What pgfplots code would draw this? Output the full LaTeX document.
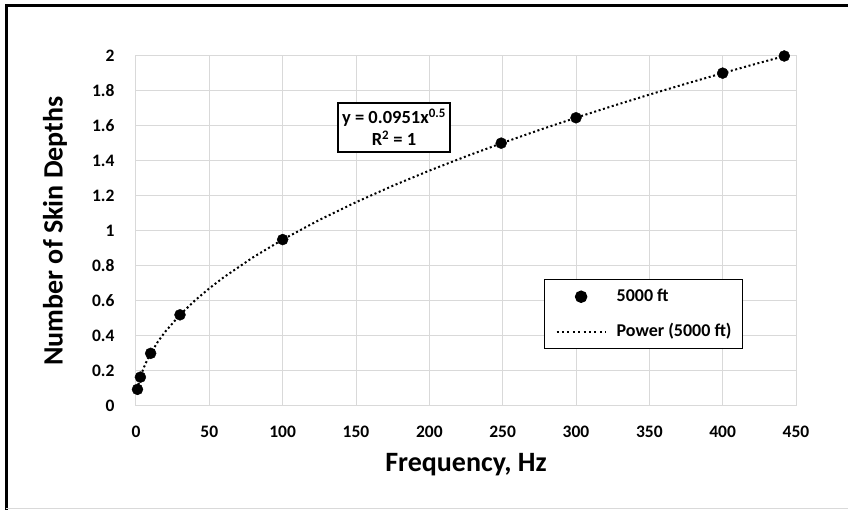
\documentclass[border=0pt]{standalone}
\usepackage{fontspec}
\setmainfont{Carlito}
\usepackage{pgfplots}
\pgfplotsset{compat=1.18}
\definecolor{gridgray}{RGB}{217,217,217}
\begin{document}
\begin{tikzpicture}[x=1pt,y=1pt]
\useasboundingbox (-136,-104) rectangle (712,406);
\draw[line width=2.2pt] (-129.5,-104) -- (-129.5,400.5) -- (712,400.5);
\draw[gridgray,line width=1pt] (-129.5,-103) -- (712,-103);
\begin{axis}[
  at={(0,0)}, anchor=south west,
  scale only axis, width=660pt, height=350pt,
  xmin=0, xmax=450, ymin=0, ymax=2,
  xtick={0,50,...,450},
  ytick={0,0.2,...,2.01},
  yticklabels={0,0.2,0.4,0.6,0.8,1,1.2,1.4,1.6,1.8,2},
  grid=major,
  major grid style={gridgray, line width=1pt},
  axis line style={gridgray, line width=1pt},
  tick style={draw=none},
  /pgf/number format/assume math mode=true,
  ticklabel style={font=\bfseries\fontsize{17.5}{19}\selectfont},
  xticklabel style={anchor=center, yshift=-26pt},
  yticklabel style={anchor=east, xshift=-18pt},
  xlabel={Frequency, Hz},
  ylabel={Number of Skin Depths},
  every axis x label/.style={at={(axis description cs:0.5,-0.1686)},anchor=center,
     font=\bfseries\fontsize{28}{32}\selectfont},
  every axis y label/.style={at={(axis description cs:-0.1227,0.5)},anchor=center,rotate=90,
     font=\bfseries\fontsize{28}{32}\selectfont},
  legend style={at={(axis description cs:0.618,0.3629)}, anchor=north west,
    draw=black, line width=1.5pt, font=\bfseries\fontsize{18}{20}\selectfont,
    inner xsep=11pt, inner ysep=9pt, row sep=19pt,
    nodes={inner sep=0pt, text height=12.5pt, text depth=3.5pt},
    /tikz/every odd column/.append style={column sep=10pt}},
  legend cell align=left,
  clip=false,
]
\addplot[only marks, mark=*, mark size=5.5pt, black,
  legend image code/.code={\path[draw=none,fill=none] (0pt,-1pt) rectangle (49pt,1pt); \fill[black] (24.5pt,0pt) circle[radius=5.5pt];}] coordinates {
(1,0.095) (3,0.165) (10,0.301) (30,0.521) (100,0.951) (249,1.502) (300,1.647) (400,1.902) (442,2.0)
};
\addlegendentry{5000 ft}
\addplot[black, line width=2pt, dash pattern=on 2pt off 2.6pt,
  legend image code/.code={\draw[black, line width=2pt, dash pattern=on 2pt off 3.4pt] (0pt,0pt) -- (49pt,0pt);}] coordinates {
(1,0.0951) (2,0.1345) (3,0.1647) (5,0.2127) (7.5,0.2604) (10,0.3007) (15,0.3683) (20,0.4253) (30,0.5209) (40,0.6015) (50,0.6725) (60,0.7366) (80,0.8506) (100,0.951) (125,1.0632) (150,1.1647) (175,1.2581) (200,1.3449) (225,1.4265) (250,1.5037) (275,1.5771) (300,1.6472) (325,1.7144) (350,1.7792) (375,1.8416) (400,1.902) (420,1.949) (442,1.9994)
};
\addlegendentry{Power (5000 ft)}
\node[draw=black, line width=1.5pt, fill=white, align=center, minimum width=112pt, minimum height=49pt, inner sep=2pt,
  font=\bfseries\fontsize{18.5}{22}\selectfont] at (axis cs:175.9,1.591)
  {y = 0.0951x\textsuperscript{0.5}\\R\textsuperscript{2} = 1};
\end{axis}
\end{tikzpicture}
\end{document}
